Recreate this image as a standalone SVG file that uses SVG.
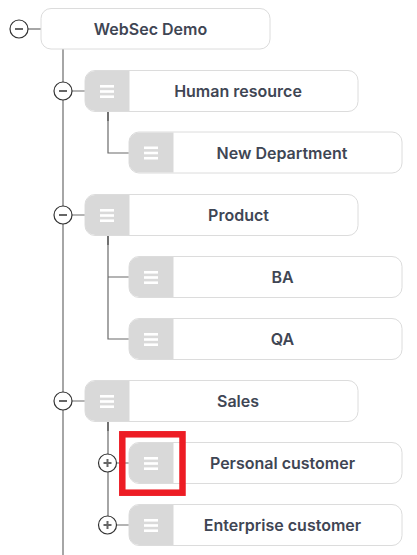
<svg xmlns="http://www.w3.org/2000/svg" width="417" height="555" viewBox="0 0 417 555">
<defs>
<style>
.card{fill:#fff;stroke:#dcdcdc;stroke-width:1}
.hdl{fill:#d9d9d9}
.bar{fill:#fff}
.lbl{font-family:Inter,"Noto Sans",sans-serif;font-size:16px;font-weight:600;fill:#3f4654;text-anchor:middle}
.ln{stroke:#6b6b6b;stroke-width:1.2;fill:none}
.dk{stroke:#111;stroke-width:1.2;fill:none}
.tg{fill:#fff;stroke:#333;stroke-width:1.2}
.sg{stroke:#666;stroke-width:2;fill:none}
</style>
<g id="handle">
<path class="hdl" d="M10.5,0.5 H45 V40.5 H10.5 A10,10 0 0 1 0.5,30.5 V10.5 A10,10 0 0 1 10.5,0.5 Z"/>
<rect class="bar" x="15.5" y="14.5" width="14" height="2.6"/>
<rect class="bar" x="15.5" y="19.7" width="14" height="2.6"/>
<rect class="bar" x="15.5" y="24.9" width="14" height="2.6"/>
</g>
</defs>
<g id="connectors">
<path class="ln" d="M63,49 V555"/>
<path class="ln" d="M28,29 H41"/>
<path class="ln" d="M72,91 H85 M72,215 H85 M72,401 H85"/>
<path class="ln" d="M108,121 V153 H129"/>
<path class="dk" d="M108,111.5 V121"/>
<path class="ln" d="M108,245 V339 H129 M108,277 H129"/>
<path class="dk" d="M108,235.5 V245"/>
<path class="ln" d="M108,431 V516 M116,463 H129 M116,525 H129"/>
<path class="dk" d="M108,421.5 V431"/>
</g>
<g id="toggle-root"><circle class="tg" cx="19" cy="29" r="9"/><path class="sg" d="M15,29 H23"/></g>
<g id="toggle-hr"><circle class="tg" cx="63" cy="91" r="9"/><path class="sg" d="M59,91 H67"/></g>
<g id="toggle-product"><circle class="tg" cx="63" cy="215" r="9"/><path class="sg" d="M59,215 H67"/></g>
<g id="toggle-sales"><circle class="tg" cx="63" cy="401" r="9"/><path class="sg" d="M59,401 H67"/></g>
<g id="toggle-personal"><circle class="tg" cx="107.5" cy="463" r="9"/><path class="sg" d="M103.5,463 H111.5 M107.5,459 V467"/></g>
<g id="toggle-enterprise"><circle class="tg" cx="107.5" cy="525" r="9"/><path class="sg" d="M103.5,525 H111.5 M107.5,521 V529"/></g>
<g id="node-root"><rect class="card" x="41" y="8.5" width="229" height="40.5" rx="10"/><text class="lbl" x="150.5" y="35">WebSec Demo</text></g>
<g id="node-hr"><rect class="card" x="85" y="70.5" width="273" height="41" rx="10"/><use href="#handle" x="84.5" y="70.5"/><text class="lbl" x="238" y="97">Human resource</text></g>
<g id="node-newdept"><rect class="card" x="129" y="132" width="273" height="41" rx="10"/><use href="#handle" x="128.5" y="132"/><text class="lbl" x="282" y="158.5">New Department</text></g>
<g id="node-product"><rect class="card" x="85" y="194.5" width="273" height="41" rx="10"/><use href="#handle" x="84.5" y="194.5"/><text class="lbl" x="238.5" y="221">Product</text></g>
<g id="node-ba"><rect class="card" x="129" y="256.5" width="273" height="41" rx="10"/><use href="#handle" x="128.5" y="256.5"/><text class="lbl" x="282.5" y="283">BA</text></g>
<g id="node-qa"><rect class="card" x="129" y="318.5" width="273" height="41" rx="10"/><use href="#handle" x="128.5" y="318.5"/><text class="lbl" x="282.5" y="345">QA</text></g>
<g id="node-sales"><rect class="card" x="85" y="380.5" width="273" height="41" rx="10"/><use href="#handle" x="84.5" y="380.5"/><text class="lbl" x="238" y="407">Sales</text></g>
<g id="node-personal"><rect class="card" x="129" y="442.5" width="273" height="41" rx="10"/><use href="#handle" x="128.5" y="442.5"/><text class="lbl" x="282.5" y="469">Personal customer</text></g>
<g id="node-enterprise"><rect class="card" x="129" y="504.5" width="273" height="41" rx="10"/><use href="#handle" x="128.5" y="504.5"/><text class="lbl" x="282.5" y="531">Enterprise customer</text></g>
<g id="highlight"><rect x="122.3" y="434.3" width="60.2" height="58.4" fill="none" stroke="#ed1c24" stroke-width="6.5"/></g>
</svg>
